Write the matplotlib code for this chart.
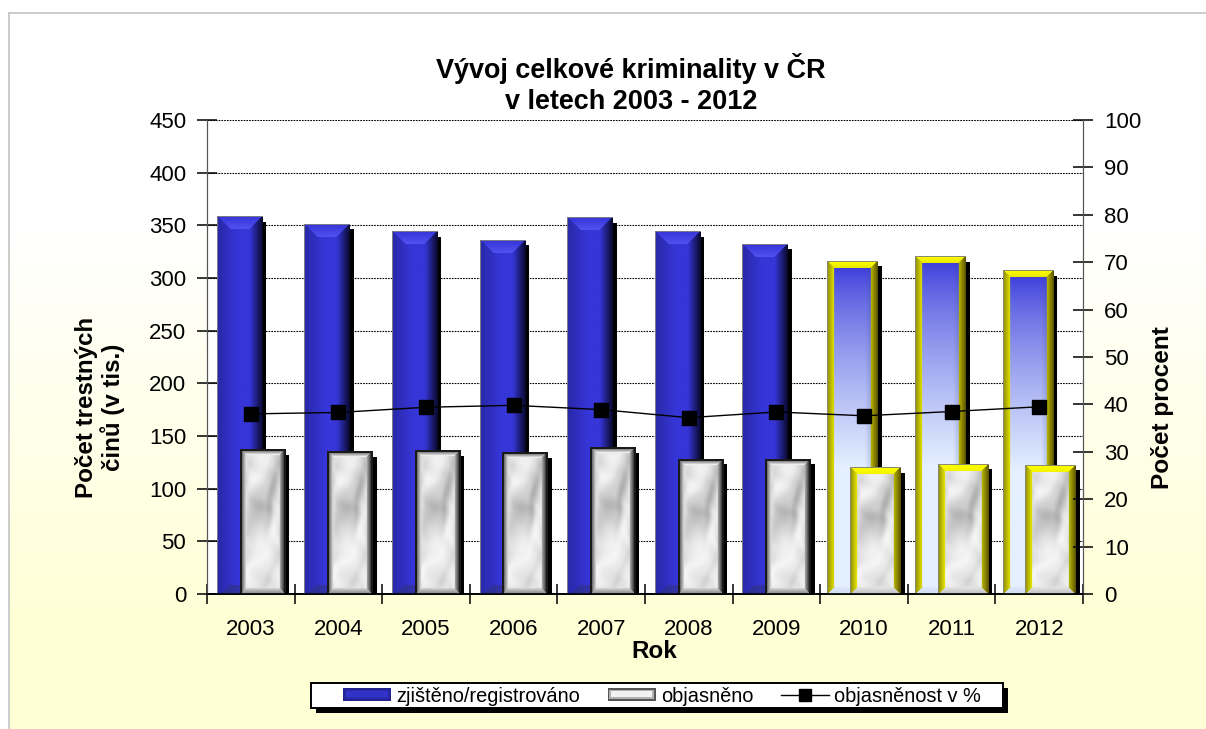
import numpy as np
import matplotlib
matplotlib.use('Agg')
import matplotlib.pyplot as plt
import matplotlib.patheffects as pe
from matplotlib.legend_handler import HandlerPatch
from matplotlib.lines import Line2D
from matplotlib.patches import Patch, Rectangle

plt.rcParams['font.family'] = ['Liberation Sans', 'DejaVu Sans']

# data
roky = ['2003', '2004', '2005', '2006', '2007', '2008', '2009', '2010', '2011', '2012']
zjisteno = [358, 351, 344, 336, 357, 344, 332, 316, 320, 307]
objasneno = [137, 135, 136, 134, 139, 128, 128, 120, 123, 122]
procenta = [38.0, 38.3, 39.4, 39.8, 38.9, 37.2, 38.4, 37.6, 38.5, 39.5]

W, H = 1206, 729


def c(hexa):
    return np.array(matplotlib.colors.to_rgb(hexa))


def mix(a, b, t):
    t = np.asarray(t)[..., None]
    return a * (1 - t) + b * t


def marble(w, h):
    # same soft blotches on every bar, only for the look
    x, y = np.meshgrid(np.linspace(0, 46, w), np.linspace(0, 144, h))
    p = x + y + 7 * np.sin(y / 19) + 4 * np.sin(x / 5)
    q = x - y + 6 * np.sin(x / 7) + 3 * np.sin(y / 6)
    t = np.zeros((h, w))
    for fp, fq, a, f in [(0.11, 0.04, 1.0, 0.3), (0.17, 0.07, 0.7, 1.7), (0.07, 0.13, 0.9, 2.9),
                         (0.29, 0.11, 0.4, 4.1), (0.05, 0.23, 0.5, 5.3), (0.37, 0.19, 0.25, 0.9)]:
        t += a * np.sin(fp * p + fq * q + f)
    t = (t - t.min()) / (t.max() - t.min())
    t = t * (0.55 + 0.45 * np.sin(x / 9 + 2.3) * np.sin(y / 14 + 1.1))
    # greyer upper part, whiter lower part
    sviti = 1 - 0.6 * np.clip((y - 60) / 60, 0, 1)
    return mix(c('#f8f8f8'), c('#949494'), np.clip(t / 0.8, 0, 1) * sviti)


def bevel(img, b, lev, prav, hor, dol):
    h, w = img.shape[:2]
    x, y = np.meshgrid(np.arange(w) + 0.5, np.arange(h) + 0.5)
    dl, dr, dt, db = x, w - x, y, h - y
    m = (dl < b) & (dl <= dt) & (dl <= db)
    img[m] = mix(lev[0], lev[1], dl[m] / b)
    m = (dr < b) & (dr <= dt) & (dr <= db)
    img[m] = mix(prav[0], prav[1], dr[m] / b)
    m = (dt < b) & (dt < dl) & (dt < dr)
    img[m] = mix(hor[0], hor[1], dt[m] / b)
    m = (db < b) & (db < dl) & (db < dr)
    img[m] = mix(dol[0], dol[1], db[m] / b)
    return img


def modry(w, h):
    x = np.linspace(0, 1, w)
    radek = np.zeros((w, 3))
    for i, t in enumerate(x):
        if t < 0.45:
            radek[i] = mix(c('#2828a8'), c('#3636d8'), t / 0.45)
        elif t < 0.72:
            radek[i] = c('#3636d8')
        else:
            radek[i] = mix(c('#3636d8'), c('#0a0a30'), (t - 0.72) / 0.28)
    img = np.tile(radek, (h, 1, 1))
    # top trapezoid
    b = 13
    xx, yy = np.meshgrid(np.arange(w) + 0.5, np.arange(h) + 0.5)
    m = (yy < b) & (yy < xx) & (yy < w - xx)
    img[m] = mix(c('#3434d8'), c('#5252f0'), yy[m] / b)
    # dark corner at the foot
    m = ((h - yy) < 9) & ((h - yy) < xx - 3)
    img[m] = mix(img[m], c('#30307a'), 0.55)
    img[0, :] = c('#7a7a8a')
    img[:, 0] = c('#7a7a8a')
    return img


def zluty(w, h):
    t = np.linspace(0, 1, h)
    img = mix(c('#2e2ed8'), c('#e4f0ff'), np.clip(t / 0.62, 0, 1) ** 0.7)
    img = np.tile(img[:, None, :], (1, w, 1))
    x = np.linspace(0, 1, w)[None, :]
    img = mix(img, c('#3a4a80'), np.clip((x - 0.75) / 0.25, 0, 1) * 0.45)
    img = bevel(img, 7, (c('#8a8a00'), c('#e0e000')), (c('#5a5000'), c('#b8b800')),
                (c('#ffff00'), c('#e8e800')), (c('#d0dcf0'), c('#dde8ff')))
    img[:, 0] = c('#8a8a70')
    img[0, :] = c('#8a8a70')
    return img


def bily(w, h, zlute):
    img = marble(w, h)
    if zlute:
        img = bevel(img, 7, (c('#8a8a00'), c('#e8e800')), (c('#5a5000'), c('#b8b800')),
                    (c('#ffff00'), c('#f4f400')), (c('#c0c0c0'), c('#e4e4e4')))
        img[:, 0] = c('#8a8a70')
        img[0, :] = c('#8a8a70')
        return img
    img = bevel(img, 6, (c('#303030'), c('#e0e0e0')), (c('#000000'), c('#b0b0b0')),
                (c('#404040'), c('#fdfdfd')), (c('#808080'), c('#d8d8d8')))
    img[:, :2] = c('#1a1a1a')
    img[:2, :] = c('#1a1a1a')
    img[:, -2:] = c('#1a1a1a')
    return img


class HandlerBevel(HandlerPatch):
    # legend key: dark outline, mid band and a lighter core
    def create_artists(self, legend, orig, xd, yd, w, h, fs, trans):
        out = Rectangle((-xd, -yd), w, h, fc=orig.get_edgecolor(), ec='none', transform=trans)
        mid = Rectangle((-xd + 1.2, -yd + 1.2), w - 2.4, h - 2.4, fc=orig.get_facecolor(), alpha=0.6, ec='none', transform=trans)
        core = Rectangle((-xd + 2.4, -yd + 2.4), w - 4.8, h - 4.8, fc=orig.get_facecolor(), ec='none', transform=trans)
        return [out, mid, core]


fig = plt.figure(figsize=(W / 100, H / 100), dpi=100, facecolor='white')

# page background
bg = fig.add_axes([9 / W, 0, (W - 9) / W, (H - 13) / H], zorder=0)
t = np.linspace(0, 1, 256)
grad = mix(c('#ffffff'), c('#ffffd6'), np.clip((t - 0.3) / 0.55, 0, 1))
bg.imshow(grad[:, None, :], aspect='auto', extent=(0, 1, 0, 1))
bg.set_xticks([])
bg.set_yticks([])
for s in ['right', 'bottom']:
    bg.spines[s].set_visible(False)
for s in ['left', 'top']:
    bg.spines[s].set_color('#c4c4c4')
    bg.spines[s].set_linewidth(1.2)

ax = fig.add_axes([207 / W, (H - 594) / H, 876 / W, 474 / H], zorder=1, facecolor='white')
ax2 = ax.twinx()
ax2.set_zorder(2)
ax2.patch.set_visible(False)

x = np.arange(len(roky))
sirka = 0.515
stin = [pe.SimplePatchShadow(offset=(3, -3.6), shadow_rgbFace='k', alpha=1), pe.Normal()]
b1 = ax.bar(x - 0.13, zjisteno, sirka, color='#3636d8', zorder=2)
b2 = ax.bar(x + 0.13, objasneno, sirka, color='#dddddd', zorder=4)
for i, p in enumerate(list(b1) + list(b2)):
    # the yellow frames of the last three years stick out of the bar
    if i % 10 >= 7:
        p.set_x(p.get_x() - 0.03)
        p.set_width(p.get_width() + 0.06)
    p.set_path_effects(stin)

ax.set_xlim(-0.5, len(roky) - 0.5)
ax.set_ylim(0, 450)
ax.set_yticks(np.arange(0, 451, 50))
ax.set_xticks(x)
ax.set_xticks(np.arange(-0.5, len(roky)), minor=True)
ax.set_xticklabels(roky)
ax.tick_params(axis='x', which='major', length=0, labelsize=16, pad=18)
ax.tick_params(axis='x', which='minor', direction='inout', length=14, width=1.1)
ax.tick_params(axis='y', direction='inout', length=14, width=1.1, labelsize=16, pad=8)
ax.yaxis.grid(True, color='black', linestyle=(0, (1.5, 1)), linewidth=0.8)
ax.set_axisbelow(True)

sx = 876 / len(roky)
sy = 474 / 450
for i, (p, q) in enumerate(zip(b1, b2)):
    w1, h1 = int(round(p.get_width() * sx)), int(round(p.get_height() * sy))
    w2, h2 = int(round(q.get_width() * sx)), int(round(q.get_height() * sy))
    zlute = i >= 7
    img1 = zluty(w1, h1) if zlute else modry(w1, h1)
    img2 = bily(w2, h2, zlute)
    ax.imshow(img1, aspect='auto', zorder=3, interpolation='bilinear',
              extent=(p.get_x(), p.get_x() + p.get_width(), 0, p.get_height()))
    ax.imshow(img2, aspect='auto', zorder=5, interpolation='bilinear',
              extent=(q.get_x(), q.get_x() + q.get_width(), 0, q.get_height()))
ax.set_xlim(-0.5, len(roky) - 0.5)
ax.set_ylim(0, 450)

ax2.plot(x, procenta, color='black', linewidth=1, marker='s', markersize=9.5, markerfacecolor='black')
ax2.set_ylim(0, 100)
ax2.set_yticks(np.arange(0, 101, 10))
ax2.tick_params(axis='y', direction='inout', length=14, width=1.1, labelsize=16, pad=8)

for a in (ax, ax2):
    for s in ['top']:
        a.spines[s].set_visible(False)
    for s in ['left', 'right']:
        a.spines[s].set_color('#555555')
    a.spines['bottom'].set_color('black')
    a.spines['bottom'].set_linewidth(1.2)

fig.text(631 / W, 1 - 84 / H, 'Vývoj celkové kriminality v ČR\nv letech 2003 - 2012', ha='center', va='center',
         fontsize=19.45, fontweight='bold', linespacing=1.27)
ax.set_ylabel('Počet trestných\nčinů (v tis.)', fontsize=17.4, fontweight='bold', linespacing=1.1, va='center')
ax.yaxis.set_label_coords((100 - 207) / 876, (594 - 407) / 474)
ax2.set_ylabel('Počet procent', fontsize=17.6, fontweight='bold', va='center')
ax2.yaxis.set_label_coords((1163 - 207) / 876, (594 - 408) / 474)
ax.set_xlabel('Rok', fontsize=17.5, fontweight='bold', va='center')
ax.xaxis.set_label_coords((654 - 207) / 876, (594 - 651) / 474)

# legend box with its hard shadow
fig.patches.append(Rectangle((316 / W, 1 - 713 / H), 692 / W, 25 / H, transform=fig.transFigure,
                             fc='black', ec='none', zorder=5))
fig.patches.append(Rectangle((311 / W, 1 - 708 / H), 692 / W, 25 / H, transform=fig.transFigure,
                             fc='white', ec='black', lw=1.4, zorder=6))
handles = [Patch(facecolor='#3232c8', edgecolor='#222290', label='zjištěno/registrováno'),
           Patch(facecolor='#f2f2f2', edgecolor='#555555', label='objasněno'),
           Line2D([0], [0], color='black', linewidth=1, marker='s', markersize=8, label='objasněnost v %')]
leg = fig.legend(handles=handles, ncol=3, loc='center', bbox_to_anchor=(662 / W, 1 - 696 / H),
                 fontsize=14.4, frameon=False, handlelength=2.4, handleheight=0.6,
                 handletextpad=0.25, columnspacing=1.4, borderpad=0, borderaxespad=0,
                 handler_map={Patch: HandlerBevel()})
leg.set_zorder(7)

fig.savefig('out.png', dpi=100)
